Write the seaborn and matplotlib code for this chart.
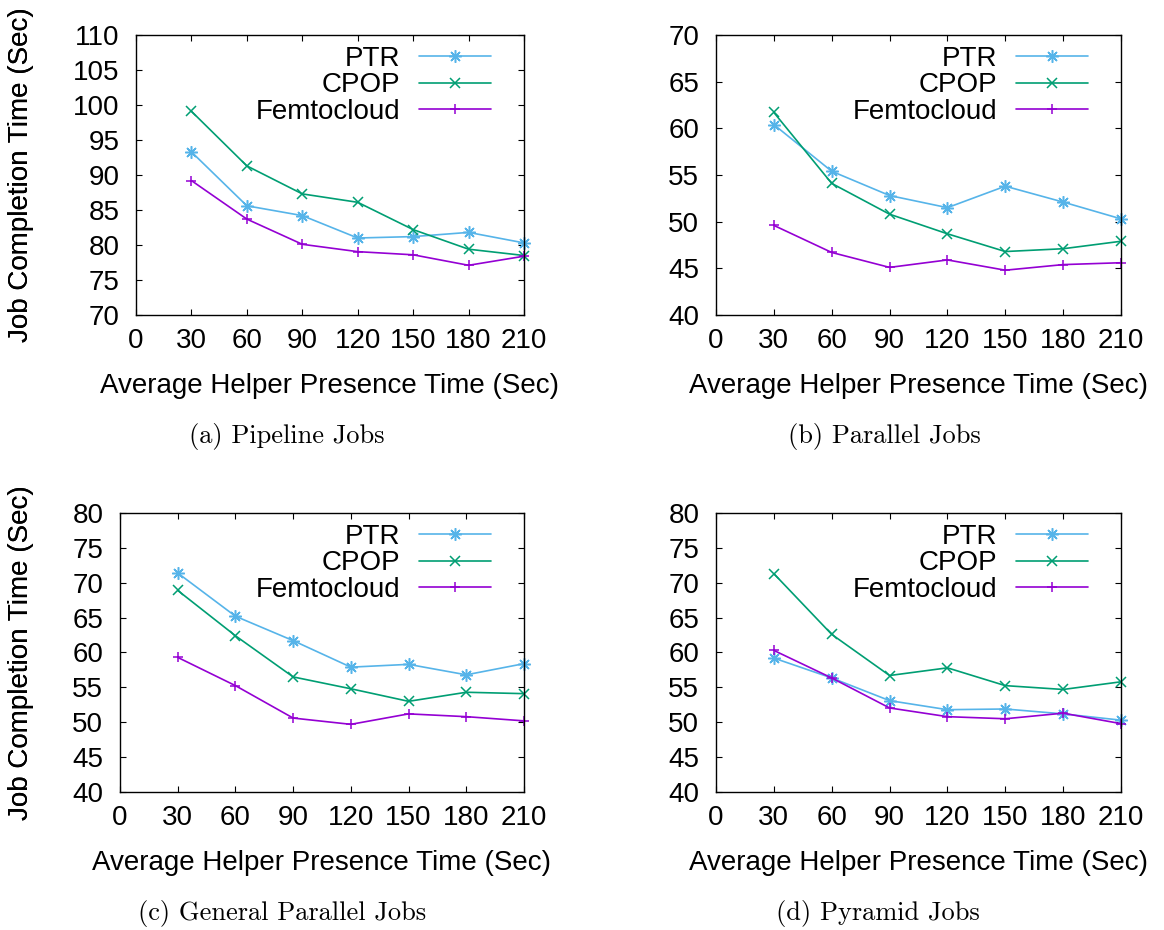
import numpy as np
import pandas as pd
import matplotlib
matplotlib.use("Agg")
import matplotlib.pyplot as plt
import seaborn as sns

# ---------------- data ----------------
times = [30, 60, 90, 120, 150, 180, 210]
methods = ["PTR", "CPOP", "Femtocloud"]

pipeline_ptr = [93.3, 85.6, 84.2, 81.0, 81.2, 81.8, 80.3]
pipeline_cpop = [99.1, 91.3, 87.3, 86.1, 82.2, 79.4, 78.5]
pipeline_femto = [89.2, 83.7, 80.1, 79.05, 78.6, 77.1, 78.4]

parallel_ptr = [60.4, 55.4, 52.8, 51.5, 53.8, 52.1, 50.3]
parallel_cpop = [61.7, 54.1, 50.8, 48.7, 46.8, 47.1, 47.9]
parallel_femto = [49.6, 46.7, 45.1, 45.9, 44.8, 45.4, 45.6]

general_ptr = [71.4, 65.2, 61.7, 57.9, 58.3, 56.8, 58.4]
general_cpop = [68.9, 62.4, 56.5, 54.8, 53.0, 54.3, 54.1]
general_femto = [59.3, 55.25, 50.6, 49.7, 51.2, 50.8, 50.2]

pyramid_ptr = [59.2, 56.35, 53.1, 51.8, 51.9, 51.2, 50.3]
pyramid_cpop = [71.3, 62.6, 56.7, 57.8, 55.25, 54.7, 55.8]
pyramid_femto = [60.3, 56.35, 52.05, 50.8, 50.5, 51.3, 49.8]

captions = ["(a) Pipeline Jobs", "(b) Parallel Jobs",
            "(c) General Parallel Jobs", "(d) Pyramid Jobs"]
x_ticks = [0, 30, 60, 90, 120, 150, 180, 210]
y_limits = [(70, 110), (40, 70), (40, 80), (40, 80)]

panels = [
    (pipeline_ptr, pipeline_cpop, pipeline_femto),
    (parallel_ptr, parallel_cpop, parallel_femto),
    (general_ptr, general_cpop, general_femto),
    (pyramid_ptr, pyramid_cpop, pyramid_femto),
]

# ---------------- style ----------------
sns.set_theme(style="ticks")
plt.rcParams["font.family"] = ["Liberation Sans", "DejaVu Sans"]
plt.rcParams["text.color"] = "black"
plt.rcParams["axes.labelcolor"] = "black"
plt.rcParams["xtick.color"] = "black"
plt.rcParams["ytick.color"] = "black"
FS = 20

palette = {"PTR": "#56b4e9", "CPOP": "#009e73", "Femtocloud": "#9400d3"}
markers = {"PTR": (8, 2, 0), "CPOP": "x", "Femtocloud": "+"}

W, H = 1164, 930
fig = plt.figure(figsize=(W / 100, H / 100), dpi=100)

# axes boxes in pixels: left, top, right, bottom
boxes = [(136, 35, 524, 315), (716, 35, 1121, 315),
         (120, 513, 524, 792), (716, 513, 1121, 792)]
caption_pos = [(287, 436), (884, 436), (282, 913), (878, 913)]

for i, (vals, box, ylim) in enumerate(zip(panels, boxes, y_limits)):
    l, t, r, b = box
    ax = fig.add_axes([l / W, (H - b) / H, (r - l) / W, (b - t) / H])
    df = pd.DataFrame({
        "time": times * 3,
        "jct": list(vals[0]) + list(vals[1]) + list(vals[2]),
        "method": [m for m in methods for _ in times],
    })
    sns.lineplot(data=df, x="time", y="jct", hue="method", style="method",
                 hue_order=methods, style_order=methods,
                 palette=palette, markers=markers, dashes=False,
                 linewidth=1.2, markersize=7, errorbar=None,
                 legend=False, ax=ax)
    for j, line in enumerate(ax.lines):
        line.set_markeredgecolor(line.get_color())
        line.set_markeredgewidth(1.1)
        line.set_clip_on(False)
        if j == 0:
            line.set_markersize(9)

    ax.set_xlim(0, 210)
    ax.set_ylim(*ylim)
    ax.set_xticks(x_ticks)
    ax.set_yticks(np.arange(ylim[0], ylim[1] + 1, 5))
    ax.tick_params(direction="in", length=4, width=0.8, top=True, right=True,
                   labelsize=FS, colors="black")
    ax.tick_params(axis="x", pad=9)
    ax.tick_params(axis="y", pad=12)
    for s in ax.spines.values():
        s.set_visible(True)
        s.set_color("black")
        s.set_linewidth(1.0)
    ax.set_xlabel("Average Helper Presence Time (Sec)", fontsize=FS, color="black")
    ax.set_ylabel("Job Completion Time (Sec)", fontsize=FS, color="black")
    ax.xaxis.set_label_coords(0.5, -58 / (b - t))
    ax.yaxis.set_label_coords((34 - l) / (r - l), 0.5)
    ax.grid(False)

    handles = ax.lines[:3]
    ax.legend(handles, methods, loc="upper right",
              bbox_to_anchor=(1 - 33 / (r - l), 1 - 11 / (b - t)),
              frameon=False, fontsize=FS, markerfirst=False,
              handlelength=2.6, handletextpad=0.65, labelspacing=0.01,
              borderpad=0, borderaxespad=0, labelcolor="black")

    cx, cy = caption_pos[i]
    fig.text(cx / W, 1 - cy / H, captions[i], ha="center", va="center",
             fontsize=19, family="cmr10", color="black")

fig.savefig("out.png", dpi=100)
